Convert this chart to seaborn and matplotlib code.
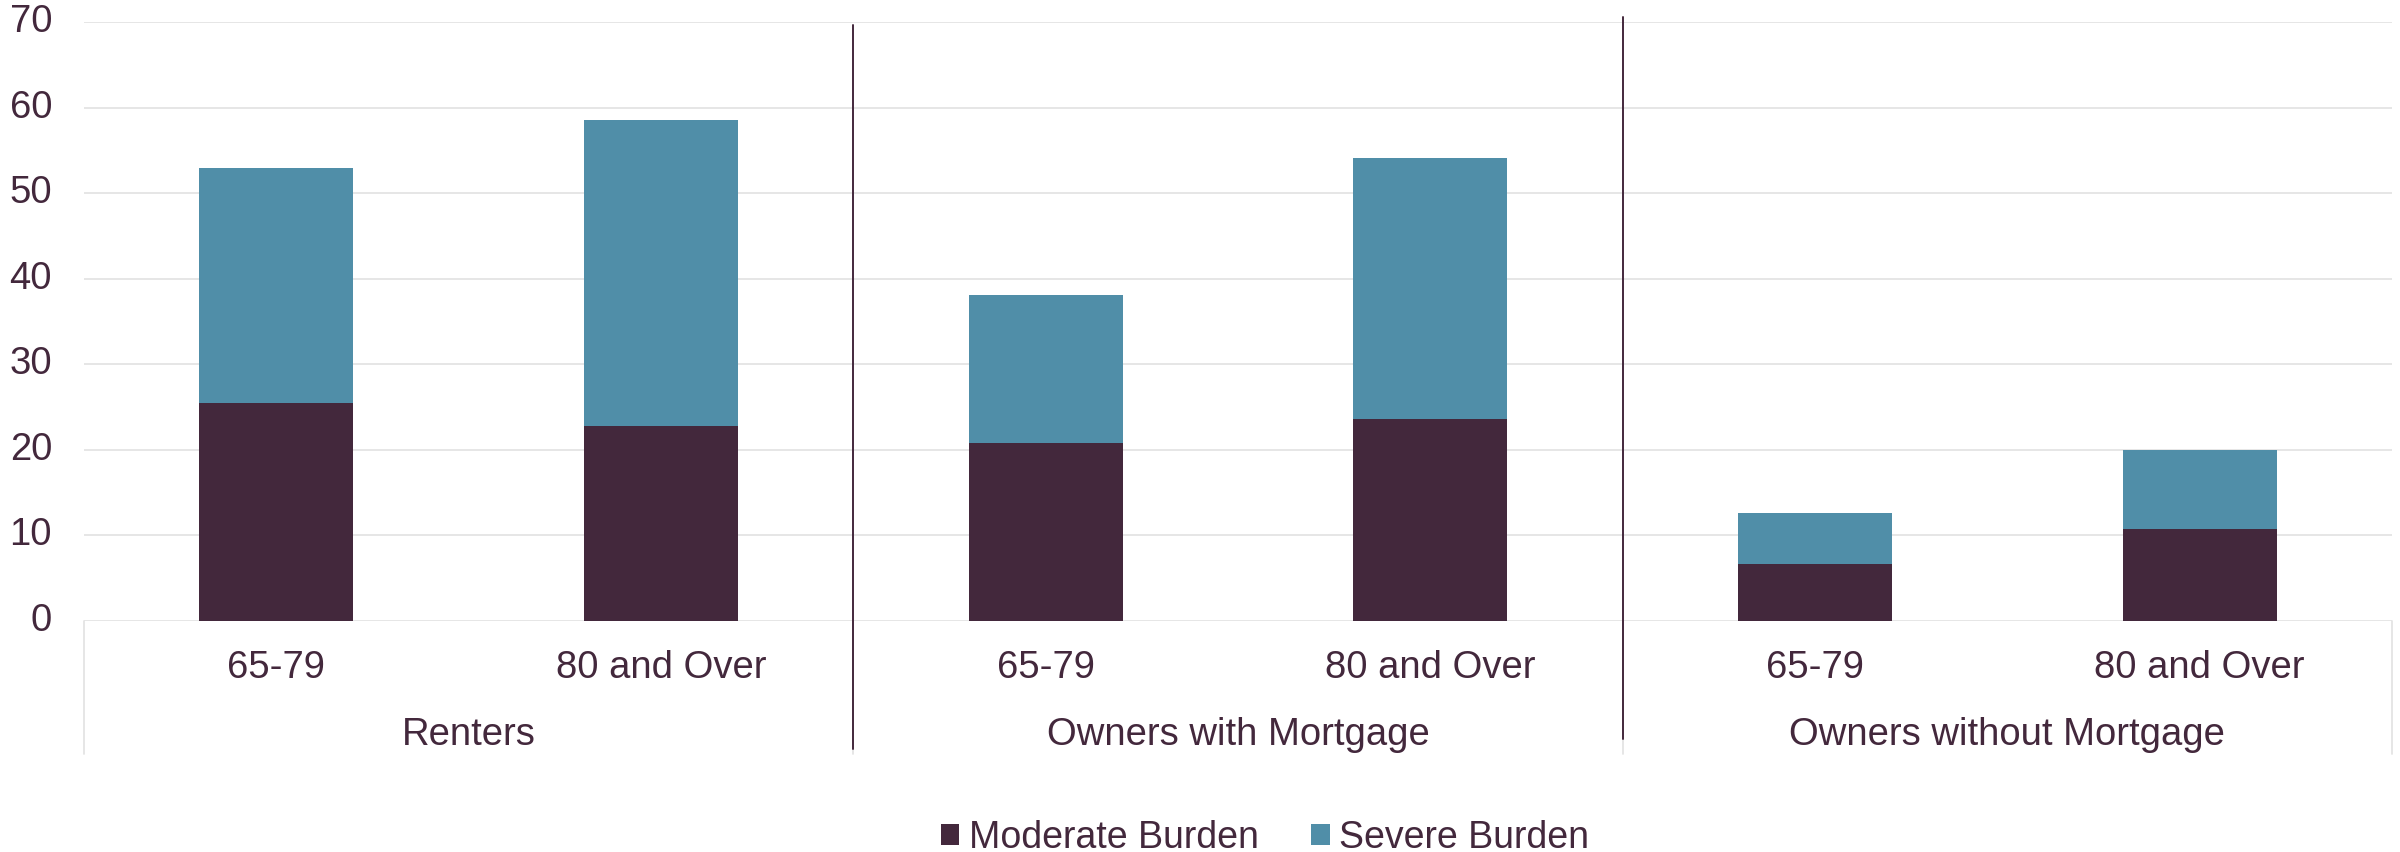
import matplotlib
matplotlib.use("Agg")
import matplotlib.pyplot as plt
import matplotlib.transforms as mtransforms
from matplotlib.patches import Patch
import pandas as pd
import seaborn as sns

# Cost burden shares (%) of older households by tenure and age
groups = ["Renters", "Owners with Mortgage", "Owners without Mortgage"]
ages = ["65-79", "80 and Over"]
moderate = [25.5, 22.8, 20.8, 23.6, 6.7, 10.7]
severe = [27.4, 35.7, 17.3, 30.5, 5.9, 9.3]
series_names = ["Moderate Burden", "Severe Burden"]
y_ticks = [0, 10, 20, 30, 40, 50, 60, 70]

DARK = "#43283C"
BLUE = "#508EA8"
TEXT = "#43283C"
GRID = "#E4E4E4"
FS = 27.5

sns.set_theme(style="white")
plt.rcParams["font.family"] = ["Liberation Sans", "DejaVu Sans"]

rows = []
i = 0
for g in groups:
    for a in ages:
        rows.append({"group": g, "age": a, "key": f"{g}|{a}",
                     "moderate": moderate[i], "severe": severe[i]})
        i += 1
df = pd.DataFrame(rows)
df["total"] = df["moderate"] + df["severe"]
order = list(df["key"])

W, H = 2400, 852
fig = plt.figure(figsize=(W / 100, H / 100), dpi=100)
left_px, right_px, bottom_px, top_px = 84, 2392, 621, 22
ax = fig.add_axes([left_px / W, 1 - bottom_px / H,
                   (right_px - left_px) / W, (bottom_px - top_px) / H])

# stacked bars: full height in blue, moderate part drawn over it
sns.barplot(data=df, x="key", y="total", order=order, color=BLUE,
            saturation=1, width=0.4, linewidth=0, ax=ax, zorder=3)
sns.barplot(data=df, x="key", y="moderate", order=order, color=DARK,
            saturation=1, width=0.4, linewidth=0, ax=ax, zorder=4)

ax.set_xlim(-0.5, len(order) - 0.5)
ax.set_ylim(0, 70)
ax.set_yticks(y_ticks)
ax.set_yticklabels([str(t) for t in y_ticks])
ax.set_xticks(range(len(order)))
ax.set_xticklabels(list(df["age"]))
ax.set_xlabel("")
ax.set_ylabel("")
ax.tick_params(axis="both", length=0, labelsize=FS, colors=TEXT)
ax.tick_params(axis="x", pad=21)
ax.tick_params(axis="y", pad=23)
for lab in ax.get_yticklabels():
    lab.set_verticalalignment("center")

ax.yaxis.grid(True, color=GRID, linewidth=1.3, zorder=0)
ax.set_axisbelow(True)
for s in ax.spines.values():
    s.set_visible(False)

trans = mtransforms.blended_transform_factory(ax.transData, ax.transAxes)
ph = bottom_px - top_px

# multi-level category box below the axis
for xb in [-0.5, 1.5, 3.5, 5.5]:
    ax.plot([xb, xb], [0, -(754 - bottom_px) / ph], transform=trans,
            color=GRID, linewidth=1.3, clip_on=False, zorder=1)

# dark separators between tenure groups
ax.plot([1.5, 1.5], [(bottom_px - 25) / ph, -(749 - bottom_px) / ph],
        transform=trans, color=DARK, linewidth=1.4, clip_on=False, zorder=5)
ax.plot([3.5, 3.5], [(bottom_px - 17) / ph, -(739 - bottom_px) / ph],
        transform=trans, color=DARK, linewidth=1.4, clip_on=False, zorder=5)

# group labels
for k, g in enumerate(groups):
    ax.text(2 * k + 0.5, -(745 - bottom_px) / ph, g, transform=trans,
            ha="center", va="baseline", fontsize=FS, color=TEXT)

handles = [Patch(facecolor=DARK, edgecolor="none"),
           Patch(facecolor=BLUE, edgecolor="none")]
fig.legend(handles, series_names, loc="center", ncol=2, frameon=False,
           bbox_to_anchor=(1265 / W, 1 - 838 / H), fontsize=27,
           labelcolor=TEXT, handlelength=0.5, handleheight=0.5,
           handletextpad=0.25, columnspacing=1.4, borderpad=0,
           borderaxespad=0)

fig.savefig("out.png", dpi=100, facecolor="white")
